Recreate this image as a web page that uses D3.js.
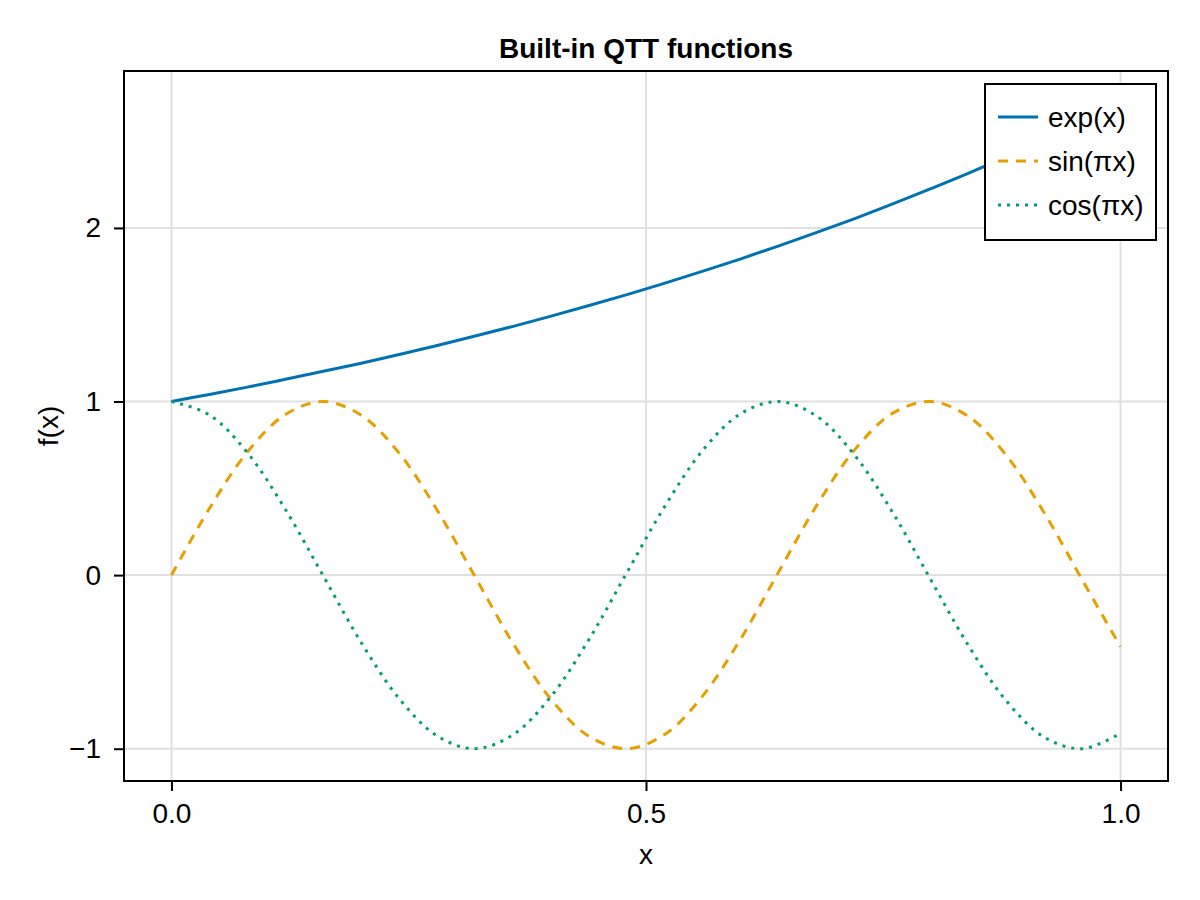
<!DOCTYPE html>
<html>
<head>
<meta charset="utf-8">
<script src="https://cdn.jsdelivr.net/npm/d3@7"></script>
<style>
  body { margin: 0; background: #fff; }
  text { font-family: "Liberation Sans", Arial, sans-serif; }
</style>
</head>
<body>
<div id="chart"></div>
<script>
// sample points
var xValues = [0, 0.04, 0.08, 0.12, 0.16, 0.20, 0.24, 0.28, 0.32, 0.36, 0.40, 0.44, 0.48,
               0.52, 0.56, 0.60, 0.64, 0.68, 0.72, 0.76, 0.80, 0.84, 0.88, 0.92, 0.96, 1.00];
var expValues = [1.000, 1.041, 1.083, 1.128, 1.174, 1.221, 1.271, 1.323, 1.377, 1.433, 1.492, 1.553, 1.616,
                 1.682, 1.751, 1.822, 1.897, 1.974, 2.054, 2.138, 2.226, 2.316, 2.411, 2.509, 2.612, 2.718];
var sinValues = [0.000, 0.384, 0.709, 0.925, 1.000, 0.921, 0.702, 0.374, -0.010, -0.394, -0.716, -0.929, -1.000,
                 -0.917, -0.694, -0.365, 0.021, 0.403, 0.723, 0.933, 1.000, 0.913, 0.687, 0.355, -0.031, -0.413];
var cosValues = [1.000, 0.923, 0.705, 0.379, -0.005, -0.389, -0.712, -0.927, -1.000, -0.919, -0.698, -0.370, 0.016,
                 0.398, 0.720, 0.931, 1.000, 0.915, 0.690, 0.360, -0.026, -0.408, -0.727, -0.935, -1.000, -0.911];
var seriesNames = ["exp(x)", "sin(πx)", "cos(πx)"];
var seriesColors = ["#0072B2", "#E69F00", "#009E73"];
var seriesDash = [null, "10,8", "3,6"];
var xTicks = [0, 0.5, 1];
var yTicks = [-1, 0, 1, 2];

var W = 1200, H = 900;
var margin = {top: 71, right: 32, bottom: 119, left: 124},
    width = W - margin.left - margin.right,
    height = H - margin.top - margin.bottom;

var svg = d3.select("#chart")
  .append("svg")
    .attr("width", W)
    .attr("height", H);

var g = svg.append("g")
    .attr("transform", "translate(" + margin.left + "," + margin.top + ")");

var x = d3.scaleLinear().domain([-0.05, 1.05]).range([0, width]);
var y = d3.scaleLinear().domain([-1.186, 2.904]).range([height, 0]);

// grid
g.append("g").selectAll("line")
  .data(xTicks).enter().append("line")
    .attr("x1", function(d) { return x(d); })
    .attr("x2", function(d) { return x(d); })
    .attr("y1", 0).attr("y2", height)
    .attr("stroke", "#e0e0e0").attr("stroke-width", 2);
g.append("g").selectAll("line")
  .data(yTicks).enter().append("line")
    .attr("y1", function(d) { return y(d); })
    .attr("y2", function(d) { return y(d); })
    .attr("x1", 0).attr("x2", width)
    .attr("stroke", "#e0e0e0").attr("stroke-width", 2);

// lines
var series = [expValues, sinValues, cosValues];
var line = d3.line()
    .x(function(d, i) { return x(xValues[i]); })
    .y(function(d) { return y(d); })
    .curve(d3.curveCatmullRom);

series.forEach(function(vals, i) {
  g.append("path")
    .datum(vals)
    .attr("fill", "none")
    .attr("stroke", seriesColors[i])
    .attr("stroke-width", 3)
    .attr("stroke-dasharray", seriesDash[i])
    .attr("d", line);
});

// frame
g.append("rect")
    .attr("width", width).attr("height", height)
    .attr("fill", "none").attr("stroke", "#000").attr("stroke-width", 2);

// axes
var xAxis = g.append("g")
    .attr("transform", "translate(0," + height + ")")
    .call(d3.axisBottom(x).tickValues(xTicks).tickFormat(d3.format(".1f")).tickSize(10).tickPadding(12));
var yAxis = g.append("g")
    .call(d3.axisLeft(y).tickValues(yTicks).tickFormat(d3.format("d")).tickSize(10).tickPadding(13));
[xAxis, yAxis].forEach(function(a) {
  a.select(".domain").remove();
  a.selectAll(".tick line").attr("stroke", "#000").attr("stroke-width", 2);
  a.selectAll(".tick text").attr("fill", "#000")
    .style("font-size", "28px")
    .style("font-family", "'Liberation Sans', Arial, sans-serif");
});

// title and axis labels
svg.append("text")
    .attr("x", margin.left + width / 2)
    .attr("y", 58)
    .attr("text-anchor", "middle")
    .style("font-size", "28px")
    .style("font-weight", "bold")
    .text("Built-in QTT functions");

svg.append("text")
    .attr("x", margin.left + width / 2)
    .attr("y", 864)
    .attr("text-anchor", "middle")
    .style("font-size", "28px")
    .text("x");

svg.append("text")
    .attr("transform", "translate(58," + (margin.top + height / 2) + ")rotate(-90)")
    .attr("text-anchor", "middle")
    .style("font-size", "28px")
    .text("f(x)");

// legend
var legend = svg.append("g").attr("transform", "translate(985,84)");
legend.append("rect")
    .attr("width", 171).attr("height", 156)
    .attr("fill", "#fff").attr("stroke", "#000").attr("stroke-width", 2);
var items = legend.selectAll(".legend")
    .data(seriesNames).enter().append("g")
    .attr("class", "legend")
    .attr("transform", function(d, i) { return "translate(0," + (33 + i * 44) + ")"; });
items.append("line")
    .attr("x1", 13).attr("x2", 53)
    .attr("stroke", function(d, i) { return seriesColors[i]; })
    .attr("stroke-width", 3)
    .attr("stroke-dasharray", function(d, i) { return seriesDash[i]; });
items.append("text")
    .attr("x", 63)
    .attr("dy", "0.35em")
    .style("font-size", "28px")
    .text(function(d) { return d; });
</script>
</body>
</html>
